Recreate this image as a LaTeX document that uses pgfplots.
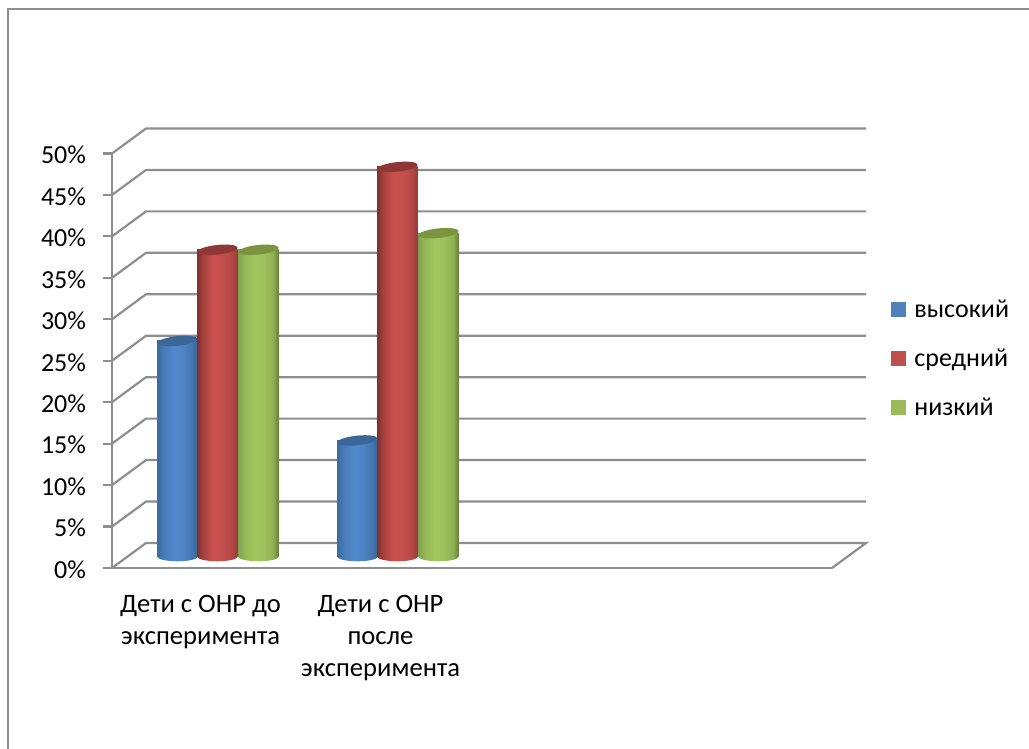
\documentclass[border=0pt]{standalone}
\usepackage{fontspec}
\setmainfont{Carlito}
\usepackage{pgfplots}
\pgfplotsset{compat=1.18}

\definecolor{wallgray}{HTML}{8E8E8E}
\definecolor{capblue}{HTML}{3B6798}
\definecolor{capred}{HTML}{8F3734}
\definecolor{capgreen}{HTML}{7A9440}
\definecolor{keyblue}{HTML}{4F81BD}
\definecolor{keyred}{HTML}{C0504D}
\definecolor{keygreen}{HTML}{9BBB59}

% Cylinder sides: dark rims with a lighter band just left of the middle
\pgfdeclarehorizontalshading{cylblue}{100bp}{rgb(0bp)=(0.24,0.42,0.63); rgb(25bp)=(0.24,0.42,0.63); rgb(33bp)=(0.28,0.48,0.72); rgb(45bp)=(0.32,0.54,0.81); rgb(56bp)=(0.31,0.52,0.78); rgb(68bp)=(0.27,0.46,0.69); rgb(75bp)=(0.22,0.38,0.58); rgb(100bp)=(0.22,0.38,0.58)}
\pgfdeclarehorizontalshading{cylred}{100bp}{rgb(0bp)=(0.50,0.19,0.18); rgb(25bp)=(0.50,0.19,0.18); rgb(33bp)=(0.66,0.26,0.25); rgb(45bp)=(0.79,0.32,0.30); rgb(56bp)=(0.77,0.31,0.30); rgb(68bp)=(0.70,0.28,0.27); rgb(75bp)=(0.58,0.23,0.22); rgb(100bp)=(0.58,0.23,0.22)}
\pgfdeclarehorizontalshading{cylgreen}{100bp}{rgb(0bp)=(0.50,0.63,0.31); rgb(25bp)=(0.50,0.63,0.31); rgb(33bp)=(0.58,0.72,0.34); rgb(45bp)=(0.64,0.78,0.37); rgb(56bp)=(0.62,0.76,0.36); rgb(68bp)=(0.56,0.69,0.33); rgb(75bp)=(0.40,0.50,0.22); rgb(100bp)=(0.40,0.50,0.22)}

% Tilted ellipses closing the cylinders
\pgfdeclareplotmark{captop}{%
  \pgfpathellipse{\pgfpointorigin}{\pgfpointpolar{6}{20.2pt}}{\pgfpointpolar{96}{4.8pt}}%
  \pgfusepathqfill}
\pgfdeclareplotmark{baseblue}{\shade[shading=cylblue,draw=none,rotate=6] (0pt,0pt) ellipse (20.2pt and 4.8pt);}
\pgfdeclareplotmark{basered}{\shade[shading=cylred,draw=none,rotate=6] (0pt,0pt) ellipse (20.2pt and 4.8pt);}
\pgfdeclareplotmark{basegreen}{\shade[shading=cylgreen,draw=none,rotate=6] (0pt,0pt) ellipse (20.2pt and 4.8pt);}

\pgfplotsset{
  series blue/.style={forget plot,xshift=-24.5pt,yshift=11.5pt},
  series red/.style={forget plot,xshift=15.5pt,yshift=11.5pt},
  series green/.style={forget plot,xshift=56.5pt,yshift=11.5pt},
  body/.style={ybar,bar width=40.5pt,bar shift=0pt,draw=none,shading=#1},
  top/.style={only marks,mark=captop,mark options={fill=#1,draw=none}},
}

\begin{document}
\begin{tikzpicture}
\path[use as bounding box] (-112pt,-181pt) rectangle (917pt,568pt);
% Sheet border running off the top right and bottom left
\draw[wallgray,line width=2.2pt] (-104pt,-181pt) -- (-104pt,559pt) -- (917pt,559pt);
\begin{axis}[
  scale only axis,
  width=720pt,height=414.5pt,
  xmin=-0.5,xmax=3.5,ymin=0,ymax=50,
  clip=false,
  axis x line*=bottom,
  axis y line*=left,
  axis line style={wallgray,line width=2.2pt,-},
  xtick={0,1},
  xticklabels={{Дети с ОНР до\\эксперимента},{Дети с ОНР\\после\\эксперимента}},
  xticklabel style={align=center,font=\fontsize{26.6}{32}\selectfont,xshift=-1.5pt,yshift=-15pt},
  x tick style={draw=none},
  ytick={0,5,...,50},
  yticklabels={0\%,5\%,10\%,15\%,20\%,25\%,30\%,35\%,40\%,45\%,50\%},
  yticklabel style={font=\fontsize{26}{32}\selectfont,xshift=-13.5pt,yshift=-1.5pt},
  /pgf/number format/assume math mode=true,
  y tick style={wallgray,line width=2.2pt},
  tick align=outside,
  major tick length=9pt,
  unbounded coords=jump,
  legend image code/.code={\fill[#1,draw=none] (0pt,-7.5pt) rectangle (15pt,7.5pt); \path (23pt,0pt);},
  legend style={draw=none,fill=none,at={(axis description cs:1.082,0.647)},anchor=north west,
    font=\fontsize{26}{32}\selectfont,row sep=30pt,inner sep=0pt,
    nodes={inner sep=0pt,anchor=west}},
  legend cell align=left,
]
% Rear wall and floor of the box
\addplot[wallgray,line width=2.2pt,forget plot] table[x=x,y=y] {
x y
-0.5 0
-0.311 3.016
3.689 3.016
3.5 0
nan nan
-0.5 5
-0.311 8.016
3.689 8.016
nan nan
-0.5 10
-0.311 13.016
3.689 13.016
nan nan
-0.5 15
-0.311 18.016
3.689 18.016
nan nan
-0.5 20
-0.311 23.016
3.689 23.016
nan nan
-0.5 25
-0.311 28.016
3.689 28.016
nan nan
-0.5 30
-0.311 33.016
3.689 33.016
nan nan
-0.5 35
-0.311 38.016
3.689 38.016
nan nan
-0.5 40
-0.311 43.016
3.689 43.016
nan nan
-0.5 45
-0.311 48.016
3.689 48.016
nan nan
-0.5 50
-0.311 53.016
3.689 53.016
};

\addlegendimage{fill=keyblue}
\addlegendentry{высокий}
\addlegendimage{fill=keyred}
\addlegendentry{средний}
\addlegendimage{fill=keygreen}
\addlegendentry{низкий}

% высокий: 26 and 14
\addplot[series blue,only marks,mark=baseblue] coordinates {(0,0)(1,0)};
\addplot[series blue,body=cylblue] coordinates {(0,26)};
\addplot[series blue,body=cylblue] coordinates {(1,14)};
\addplot[series blue,top=capblue] coordinates {(0,26)(1,14)};
% средний: 37 and 47
\addplot[series red,only marks,mark=basered] coordinates {(0,0)(1,0)};
\addplot[series red,body=cylred] coordinates {(0,37)};
\addplot[series red,body=cylred] coordinates {(1,47)};
\addplot[series red,top=capred] coordinates {(0,37)(1,47)};
% низкий: 37 and 39
\addplot[series green,only marks,mark=basegreen] coordinates {(0,0)(1,0)};
\addplot[series green,body=cylgreen] coordinates {(0,37)};
\addplot[series green,body=cylgreen] coordinates {(1,39)};
\addplot[series green,top=capgreen] coordinates {(0,37)(1,39)};
\end{axis}
\end{tikzpicture}
\end{document}
